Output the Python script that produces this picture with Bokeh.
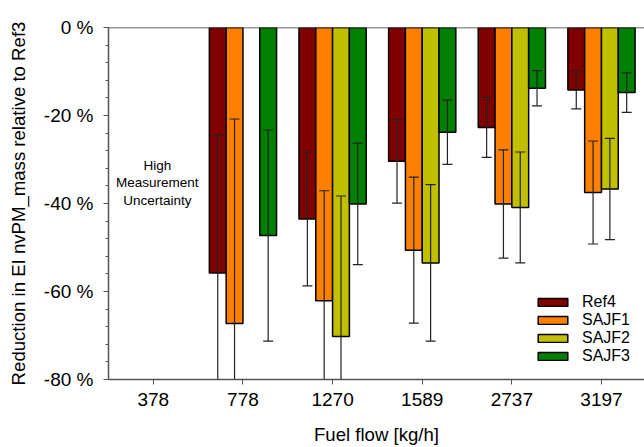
import numpy as np
from bokeh.plotting import figure
from bokeh.models import FixedTicker, Span, Label, ColumnDataSource, Range1d
from bokeh.embed import file_html
from bokeh.resources import INLINE

# ---- data ----
categories = ["378", "778", "1270", "1589", "2737", "3197"]
series_names = ["Ref4", "SAJF1", "SAJF2", "SAJF3"]
ref4 = [np.nan, -55.8, -43.5, -30.4, -22.7, -14.2]
ref4_err = [np.nan, 31.3, 15.2, 9.5, 6.8, 4.3]
sajf1 = [np.nan, -67.3, -62.1, -50.6, -40.1, -37.5]
sajf1_err = [np.nan, 46.5, 25.0, 16.6, 12.3, 11.7]
sajf2 = [np.nan, np.nan, -70.2, -53.5, -40.9, -36.7]
sajf2_err = [np.nan, np.nan, 31.9, 17.8, 12.6, 11.5]
sajf3 = [np.nan, -47.3, -40.1, -23.8, -13.8, -14.8]
sajf3_err = [np.nan, 24.0, 13.8, 7.3, 4.0, 4.5]
y_ticks = [-80, -60, -40, -20, 0]
y_tick_labels = ["-80 %", "-60 %", "-40 %", "-20 %", "0 %"]
annotation_text = "High\nMeasurement\nUncertainty"

colors = ["#800000", "#FF8000", "#C0C000", "#008000"]
FONT = "Liberation Sans"

p = figure(width=644, height=447, output_backend="svg", toolbar_location=None,
           x_range=Range1d(-0.5, 5.48), y_range=Range1d(-80, 0),
           min_border_left=108, min_border_right=0, min_border_top=27, min_border_bottom=68)
p.outline_line_color = None
p.xgrid.visible = False
p.ygrid.visible = False

bw = 0.1875
values = [ref4, sajf1, sajf2, sajf3]
errs = [ref4_err, sajf1_err, sajf2_err, sajf3_err]
idx = np.arange(len(categories))

for k, (name, vals, err, col) in enumerate(zip(series_names, values, errs, colors)):
    v = np.array(vals, dtype=float)
    m = ~np.isnan(v)
    x = idx[m] + (k - 1.5) * bw
    src = ColumnDataSource(dict(x=x, top=v[m]))
    p.vbar(x="x", top="top", bottom=0, width=bw, source=src, fill_color=col,
           line_color="black", line_width=1.5, legend_label=name)

for k, (vals, err) in enumerate(zip(values, errs)):
    v = np.array(vals, dtype=float)
    e = np.array(err, dtype=float)
    m = ~np.isnan(v)
    x = idx[m] + (k - 1.5) * bw
    src = ColumnDataSource(dict(x=x, up=v[m] + e[m], lo=v[m] - e[m]))
    p.segment(x0="x", y0="lo", x1="x", y1="up", source=src, line_color="#222222", line_width=1.2)
    p.scatter(x="x", y="up", source=src, marker="dash", size=10, line_color="#222222", line_width=1.2)
    p.scatter(x="x", y="lo", source=src, marker="dash", size=10, line_color="#222222", line_width=1.2)

p.add_layout(Span(location=0, dimension="width", line_color="#333333", line_width=1.5))

p.add_layout(Label(x=0, y=-35.3, x_offset=4, text=annotation_text, text_align="center",
                   text_baseline="middle", text_font=FONT, text_font_size="13.5px",
                   text_line_height=1.15, text_color="black"))

# axes
p.xaxis.ticker = FixedTicker(ticks=list(idx))
p.xaxis.major_label_overrides = {int(i): c for i, c in zip(idx, categories)}
p.xaxis.axis_label = "Fuel flow [kg/h]"
p.yaxis.ticker = FixedTicker(ticks=y_ticks, minor_ticks=list(range(-80, 1, 4)))
p.yaxis.major_label_overrides = {t: l for t, l in zip(y_ticks, y_tick_labels)}
p.yaxis.axis_label = "Reduction in EI nvPM_mass relative to Ref3"

for ax in (p.xaxis[0], p.yaxis[0]):
    ax.axis_line_color = "#555555"
    ax.axis_line_width = 1.5
    ax.major_tick_line_color = "#555555"
    ax.minor_tick_line_color = "#555555"
    ax.major_tick_in = 0
    ax.major_tick_out = 5
    ax.minor_tick_in = 0
    ax.minor_tick_out = 3
    ax.major_label_text_font = FONT
    ax.major_label_text_font_size = "19px"
    ax.major_label_text_color = "black"
    ax.axis_label_text_font = FONT
    ax.axis_label_text_font_size = "18.6px"
    ax.axis_label_text_font_style = "normal"
    ax.axis_label_text_color = "black"
p.xaxis.minor_tick_line_color = None
p.xaxis.major_label_standoff = 8
p.xaxis.axis_label_standoff = 15
p.yaxis.major_label_standoff = 10
p.yaxis.axis_label_standoff = 12

lg = p.legend[0]
lg.location = (426, 14)
lg.background_fill_alpha = 0
lg.border_line_color = None
lg.padding = 0
lg.margin = 0
lg.spacing = 0
lg.glyph_width = 37
lg.glyph_height = 10
lg.label_height = 18
lg.label_standoff = 11
lg.label_text_font = FONT
lg.label_text_font_size = "16px"
lg.label_text_color = "black"

open("out.html", "w").write(file_html(p, INLINE))
